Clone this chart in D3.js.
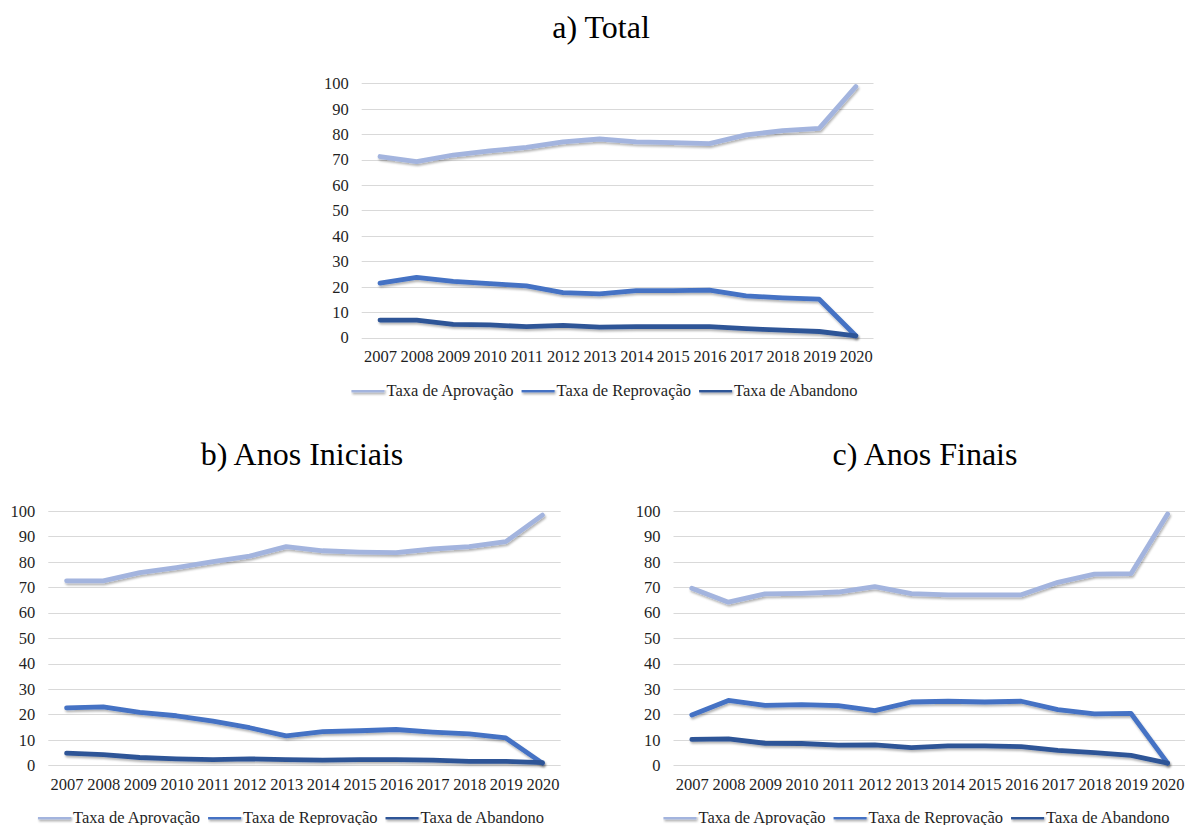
<!DOCTYPE html>
<html>
<head>
<meta charset="utf-8">
<script src="https://cdn.jsdelivr.net/npm/d3@7"></script>
<style>
  html, body { margin: 0; padding: 0; background: #ffffff; }
  svg { display: block; }
  svg text { font-family: "Liberation Serif", "Times New Roman", "DejaVu Serif", serif; }
</style>
</head>
<body>
<svg id="chart" width="1185" height="825"></svg>
<script>
// ---- Data ----
const years = ["2007","2008","2009","2010","2011","2012","2013","2014","2015","2016","2017","2018","2019","2020"];
const seriesNames = ["Taxa de Aprovação", "Taxa de Reprovação", "Taxa de Abandono"];
const yTicks = [0, 10, 20, 30, 40, 50, 60, 70, 80, 90, 100];

const panelTitles = ["a) Total", "b) Anos Iniciais", "c) Anos Finais"];

const totalAprovacao   = [71.2, 69.2, 71.8, 73.4, 74.8, 77.0, 78.1, 77.0, 76.7, 76.3, 79.7, 81.4, 82.3, 98.7];
const totalReprovacao  = [21.4, 23.7, 22.1, 21.2, 20.3, 17.7, 17.2, 18.5, 18.5, 18.7, 16.4, 15.6, 15.1, 0.7];
const totalAbandono    = [6.9, 6.9, 5.2, 5.0, 4.3, 4.8, 4.1, 4.3, 4.3, 4.3, 3.5, 2.9, 2.4, 0.7];

const iniciaisAprovacao  = [72.5, 72.5, 75.7, 77.7, 80.0, 82.2, 85.9, 84.3, 83.8, 83.6, 85.0, 85.9, 87.9, 98.3];
const iniciaisReprovacao = [22.6, 23.0, 20.8, 19.5, 17.4, 14.8, 11.6, 13.3, 13.6, 14.1, 13.1, 12.4, 10.8, 0.9];
const iniciaisAbandono   = [4.8, 4.2, 3.1, 2.6, 2.3, 2.6, 2.3, 2.1, 2.3, 2.3, 2.1, 1.6, 1.6, 1.1];

const finaisAprovacao  = [69.6, 64.1, 67.4, 67.6, 68.1, 70.2, 67.5, 67.0, 67.0, 67.0, 71.9, 75.1, 75.3, 98.7];
const finaisReprovacao = [19.8, 25.5, 23.6, 23.9, 23.5, 21.5, 24.9, 25.2, 24.9, 25.2, 21.9, 20.2, 20.4, 0.9];
const finaisAbandono   = [10.2, 10.4, 8.7, 8.6, 8.0, 8.1, 7.0, 7.7, 7.7, 7.4, 5.9, 5.0, 3.9, 0.9];

// ---- Styles / layout ----
const colors = ["#a3b4de", "#4472c4", "#2f5597"];
const textColor = "#1f1f1f";
const svg = d3.select("#chart");

const defs = svg.append("defs");
const f = defs.append("filter").attr("id", "shadow")
  .attr("filterUnits", "userSpaceOnUse")
  .attr("x", 0).attr("y", 0).attr("width", 1185).attr("height", 825);
f.append("feDropShadow").attr("dx", 1).attr("dy", 2).attr("stdDeviation", 1.3)
  .attr("flood-color", "#000").attr("flood-opacity", 0.3);

const panels = [
  { title: panelTitles[0], data: [totalAprovacao, totalReprovacao, totalAbandono],
    left: 361.7, right: 873.5, top: 83.3, bottom: 337.6,
    titleX: 601, titleY: 38, legendCX: 604.5, legendY: 390 },
  { title: panelTitles[1], data: [iniciaisAprovacao, iniciaisReprovacao, iniciaisAbandono],
    left: 48.3, right: 560.7, top: 510.8, bottom: 765.4,
    titleX: 302, titleY: 465, legendCX: 291, legendY: 817 },
  { title: panelTitles[2], data: [finaisAprovacao, finaisReprovacao, finaisAbandono],
    left: 673.5, right: 1185, top: 510.8, bottom: 765.4,
    titleX: 925, titleY: 465, legendCX: 916.5, legendY: 817 }
];

const stepW = 36.6;

panels.forEach(p => {
  const g = svg.append("g");
  const x = d3.scalePoint().domain(years)
    .range([p.left + stepW / 2, p.left + stepW / 2 + stepW * (years.length - 1)]);
  const y = d3.scaleLinear().domain([0, 100]).range([p.bottom, p.top]);

  // title
  g.append("text").attr("x", p.titleX).attr("y", p.titleY)
    .attr("text-anchor", "middle").attr("font-size", 32).attr("fill", "#000")
    .text(p.title);

  // gridlines
  g.append("g").selectAll("line").data(yTicks).join("line")
    .attr("x1", p.left).attr("x2", p.right)
    .attr("y1", d => Math.round(y(d)) + 0.5).attr("y2", d => Math.round(y(d)) + 0.5)
    .attr("stroke", "#d9d9d9").attr("stroke-width", 1);

  // y axis labels
  const yAxis = d3.axisLeft(y).tickValues(yTicks).tickSize(0).tickPadding(13);
  const ya = g.append("g").attr("transform", `translate(${p.left},0)`).call(yAxis);
  ya.attr("font-family", null);
  ya.select(".domain").remove();
  ya.selectAll("text").attr("font-size", 16.5).attr("fill", textColor);

  // x axis labels
  const xAxis = d3.axisBottom(x).tickSize(0).tickPadding(13);
  const xa = g.append("g").attr("transform", `translate(0,${p.bottom})`).call(xAxis);
  xa.attr("font-family", null);
  xa.select(".domain").remove();
  xa.selectAll("text").attr("font-size", 16.5).attr("fill", textColor);

  // lines
  const line = d3.line().x((d, i) => x(years[i])).y(d => y(d));
  p.data.forEach((vals, si) => {
    g.append("path").datum(vals)
      .attr("d", line)
      .attr("fill", "none")
      .attr("stroke", colors[si])
      .attr("stroke-width", 4.8)
      .attr("stroke-linejoin", "round")
      .attr("stroke-linecap", "round")
      .attr("filter", "url(#shadow)");
  });

  // legend
  const lg = g.append("g");
  const lineW = 33, gapText = 2, itemGap = 8;
  const items = seriesNames.map((name, i) => {
    const it = lg.append("g");
    it.append("rect").attr("x", 0).attr("y", -2.4).attr("width", lineW).attr("height", 4.8)
      .attr("fill", colors[i]).attr("filter", "url(#shadow)");
    const t = it.append("text").attr("x", lineW + gapText).attr("y", 5.5)
      .attr("font-size", 16.5).attr("fill", textColor).text(name);
    const w = lineW + gapText + t.node().getComputedTextLength();
    return { it, w };
  });
  const total = d3.sum(items, d => d.w) + itemGap * (items.length - 1);
  let cx = p.legendCX - total / 2;
  items.forEach(d => {
    d.it.attr("transform", `translate(${cx},${p.legendY})`);
    cx += d.w + itemGap;
  });
});
</script>
</body>
</html>
